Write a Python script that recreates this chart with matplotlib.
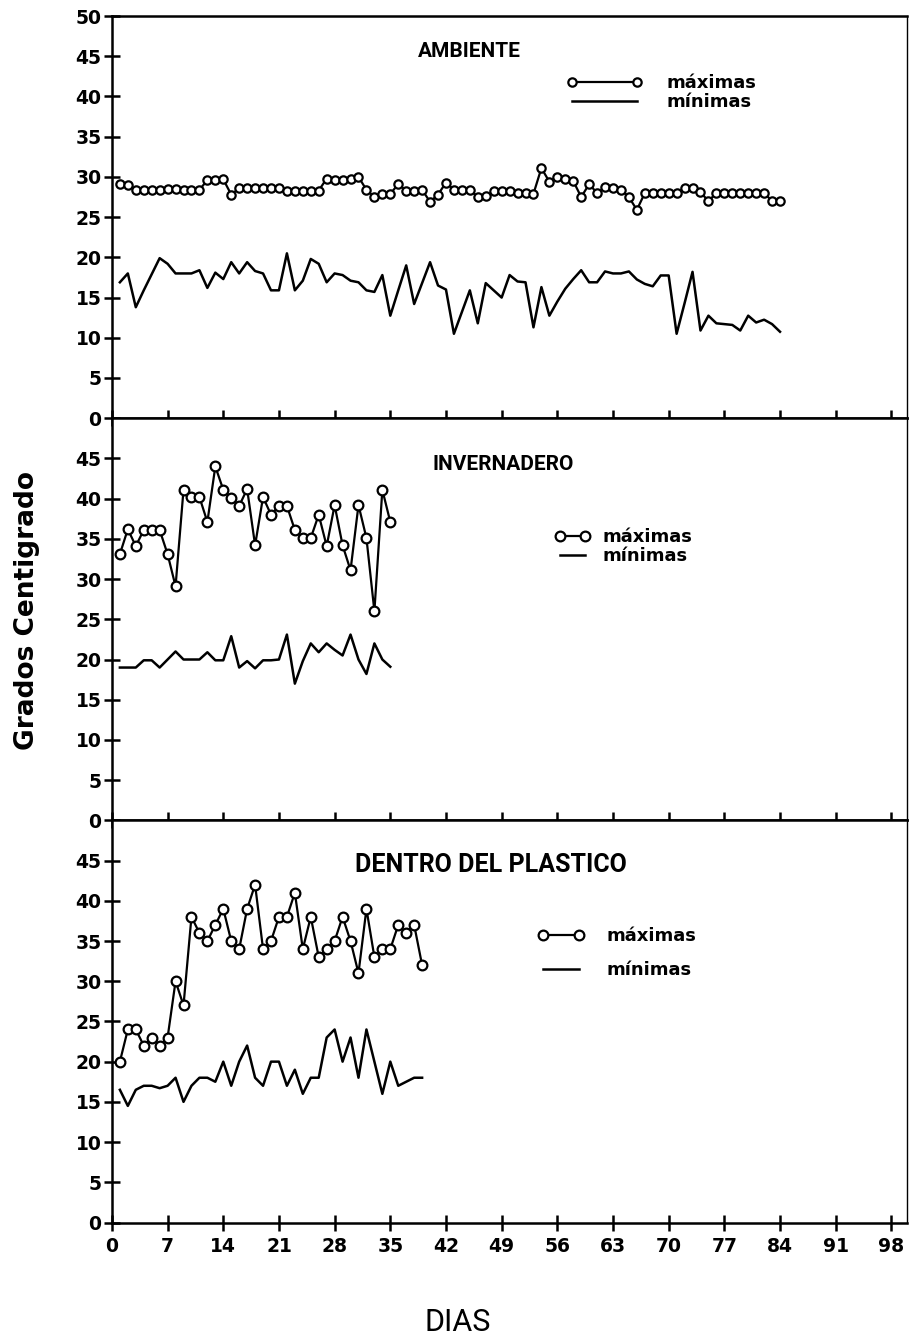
import matplotlib.pyplot as plt
from matplotlib.lines import Line2D

# temperaturas diarias (grados C), dias 1..n
amb_max = [29.1, 29.0, 28.4, 28.4, 28.4, 28.4, 28.5, 28.5, 28.4, 28.4,
           28.4, 29.6, 29.6, 29.7, 27.8, 28.6, 28.6, 28.6, 28.6, 28.6,
           28.6, 28.3, 28.3, 28.3, 28.3, 28.3, 29.8, 29.6, 29.6, 29.8,
           30.0, 28.4, 27.5, 27.9, 27.9, 29.1, 28.3, 28.3, 28.4, 26.9,
           27.8, 29.3, 28.4, 28.4, 28.4, 27.5, 27.6, 28.2, 28.2, 28.2,
           28.0, 28.0, 27.9, 31.1, 29.4, 30.0, 29.8, 29.5, 27.5, 29.1,
           28.0, 28.7, 28.6, 28.4, 27.5, 25.9, 28.0, 28.0, 28.0, 28.0,
           28.0, 28.6, 28.6, 28.1, 27.0, 28.0, 28.0, 28.0, 28.0, 28.0,
           28.0, 28.0, 27.0, 27.0]
amb_min = [16.9, 18.0, 13.8, 15.9, 17.9, 19.9, 19.2, 18.0, 18.0, 18.0,
           18.4, 16.2, 18.1, 17.3, 19.4, 18.0, 19.4, 18.3, 18.0, 15.9,
           15.9, 20.5, 15.9, 17.1, 19.8, 19.2, 16.9, 18.0, 17.8, 17.1,
           16.9, 15.9, 15.7, 17.8, 12.75, 15.9, 19.0, 14.2, 16.8, 19.4,
           16.5, 16.0, 10.5, 13.2, 15.9, 11.8, 16.8, 15.9, 15.0, 17.8,
           17.0, 16.9, 11.3, 16.3, 12.75, 14.5, 16.1, 17.3, 18.4, 16.9,
           16.9, 18.25, 18.0, 18.0, 18.25, 17.25, 16.7, 16.4, 17.75, 17.75,
           10.5, 14.3, 18.2, 10.9, 12.75, 11.8, 11.7, 11.6, 10.9, 12.75,
           11.9, 12.25, 11.7, 10.75]

inv_max = [33.1, 36.2, 34.1, 36.1, 36.1, 36.1, 33.1, 29.1, 41.1, 40.2,
           40.2, 37.1, 44.0, 41.1, 40.1, 39.1, 41.2, 34.2, 40.2, 38.0,
           39.1, 39.1, 36.1, 35.1, 35.1, 38.0, 34.1, 39.2, 34.2, 31.1,
           39.2, 35.1, 26.0, 41.1, 37.1]
inv_min = [19.0, 19.0, 19.0, 19.9, 19.9, 19.0, 20.0, 21.0, 20.0, 20.0,
           20.0, 20.9, 19.9, 19.9, 22.9, 19.0, 19.8, 18.9, 19.9, 19.9,
           20.0, 23.1, 17.0, 19.8, 22.0, 20.9, 22.0, 21.2, 20.5, 23.1,
           20.0, 18.2, 22.0, 20.0, 19.1]

pla_max = [20, 24, 24, 22, 23, 22, 23, 30, 27, 38,
           36, 35, 37, 39, 35, 34, 39, 42, 34, 35,
           38, 38, 41, 34, 38, 33, 34, 35, 38, 35,
           31, 39, 33, 34, 34, 37, 36, 37, 32]
pla_min = [16.5, 14.5, 16.5, 17, 17, 16.7, 17, 18, 15, 17,
           18, 18, 17.5, 20, 17, 20, 22, 18, 17, 20,
           20, 17, 19, 16, 18, 18, 23, 24, 20, 23,
           18, 24, 20, 16, 20, 17, 17.5, 18, 18]

titulos = ['AMBIENTE', 'INVERNADERO', 'DENTRO DEL PLASTICO']
etiquetas = ['máximas', 'mínimas']
dias_ticks = list(range(0, 99, 7))

fig, axes = plt.subplots(3, 1, figsize=(9.1, 13.39), dpi=100, sharex=True,
                         gridspec_kw={'hspace': 0})
fig.subplots_adjust(left=0.123, right=0.997, top=0.988, bottom=0.087)

series = [(amb_max, amb_min), (inv_max, inv_min), (pla_max, pla_min)]
msizes = [6, 7, 7]
tit_pos = [(0.45, 0.913, 15), (0.492, 0.886, 15), (0.477, 0.89, 18)]
# x, y, largo de la clave, separacion clave-texto, separacion de filas
leg_pos = [(0.572, 0.855, 4.2, 1.3, 0.05),
           (0.556, 0.727, 2.0, 0.7, 0.05),
           (0.535, 0.735, 2.6, 1.2, 0.9)]

for i, ax in enumerate(axes):
    vmax, vmin = series[i]
    dias = list(range(1, len(vmax) + 1))
    ax.plot(dias, vmin, color='black', lw=1.8)
    ax.plot(dias, vmax, color='black', lw=1.6, marker='o', ms=msizes[i],
            mfc='white', mec='black', mew=1.6)
    ax.set_ylim(0, 50)
    ax.set_xlim(0, 100)
    if i == 0:
        ax.set_yticks(range(0, 55, 5))
    else:
        ax.set_yticks(range(0, 50, 5))
    ax.set_xticks(dias_ticks)
    ax.tick_params(direction='inout', length=11, width=1.8, labelsize=13.5, pad=2)
    ax.tick_params(axis='x', pad=5)
    for lab in ax.get_yticklabels() + ax.get_xticklabels():
        lab.set_fontweight('bold')
    for s in ['left', 'bottom', 'top']:
        ax.spines[s].set_linewidth(1.8)
    ax.spines['right'].set_linewidth(1.0)

    tx, ty, tfs = tit_pos[i]
    ax.text(tx, ty, titulos[i], transform=ax.transAxes, ha='center', va='center',
            fontsize=tfs, fontweight='bold', family='Roboto')

    lx, ly, hl, hp, ls = leg_pos[i]
    handles = [Line2D([], [], color='black', lw=1.6, marker='o', ms=msizes[i],
                      mfc='white', mec='black', mew=1.6),
               Line2D([], [], color='black', lw=1.8)]
    ax.legend(handles, etiquetas, loc='upper left', bbox_to_anchor=(lx, ly),
              frameon=False, numpoints=2, handlelength=hl, handletextpad=hp,
              borderpad=0, borderaxespad=0, labelspacing=ls,
              prop={'weight': 'bold', 'size': 13})

fig.text(0.03, 0.544, 'Grados Centigrado', rotation=90, ha='center', va='center',
         fontsize=19, fontweight='bold')
fig.text(0.503, 0.012, 'DIAS', ha='center', va='center', fontsize=22,
         family='Roboto')

plt.savefig('out.png', dpi=100)
